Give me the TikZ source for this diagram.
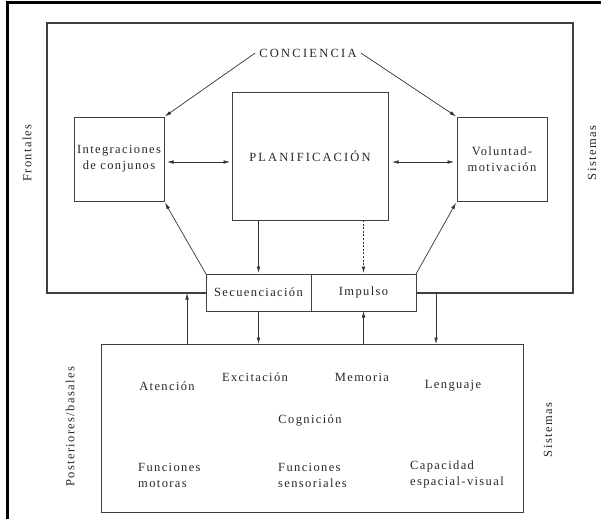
\documentclass[tikz,border=0pt]{standalone}
\usepackage{fontspec}
\setmainfont{Liberation Serif}[LetterSpace=11]
\usetikzlibrary{arrows.meta}
\begin{document}
\begin{tikzpicture}[x=1pt,y=-1pt,
  every node/.style={font=\fontsize{12.5}{16}\selectfont, text=black!85},
  box/.style={draw=black!75, line width=0.8pt, inner sep=0pt, outer sep=0pt, align=center},
  outerbox/.style={draw=black!75, line width=1.4pt, inner sep=0pt, outer sep=0pt},
  conn/.style={draw=black!80, line width=0.7pt, -{Latex[length=6.5pt,width=3.6pt]}},
  both/.style={conn, {Latex[length=6.5pt,width=3.6pt]}-{Latex[length=6.5pt,width=3.6pt]}},
  lbl/.style={inner sep=0pt, align=center},
  caps/.style={inner sep=4pt, font=\fontsize{12.5}{16}\selectfont\addfontfeature{LetterSpace=18}},
  side/.style={inner sep=0pt, rotate=90},
]
\useasboundingbox (0,0) rectangle (601,519);

% page rule along the top and left edge
\draw[line width=3pt, black] (601,3) -- (7,3) -- (7,519);

% frontal systems
\node[outerbox, minimum width=526pt, minimum height=270pt] (frontal) at (310,158) {};
\node[box, minimum width=90pt, minimum height=84pt] (integ) at (119,159) {Integraciones\\de conjunos};
\node[box, minimum width=156pt, minimum height=128pt] (plan) at (310,156) {\addfontfeature{LetterSpace=17}PLANIFICACIÓN};
\node[box, minimum width=90pt, minimum height=84pt] (volunt) at (502,159) {Voluntad-\\motivación};
\node[caps] (conc) at (308,53) {CONCIENCIA};

% sequencing / drive bar across the lower edge
\node[box, fill=white, minimum width=105pt, minimum height=37pt] (seq) at (258.5,292.5) {Secuenciación};
\node[box, fill=white, minimum width=105pt, minimum height=37pt] (imp) at (363.5,292.5) {Impulso};

% posterior / basal systems
\node[box, minimum width=422pt, minimum height=168pt] (post) at (312,428) {};
\node[lbl] (aten) at (167,386) {Atención};
\node[lbl] (excit) at (255,377) {Excitación};
\node[lbl] (memo) at (362,377) {Memoria};
\node[lbl] (leng) at (453,386) {Lenguaje};
\node[lbl] (cogn) at (310,420) {Cognición};
\node[lbl, anchor=west, align=left] (fmot) at (138,475) {Funciones\\motoras};
\node[lbl, anchor=west, align=left] (fsens) at (278,475) {Funciones\\sensoriales};
\node[lbl, anchor=west, align=left] (capac) at (410,474) {Capacidad\\espacial-visual};

% side labels
\node[side] (front) at (27,153) {Frontales};
\node[side] (sistA) at (592,153) {Sistemas};
\node[side] (poster) at (70,427) {Posteriores/basales};
\node[side] (sistB) at (548,430) {Sistemas};

% connectors inside the frontal block
\draw[conn, shorten >=1pt] (conc.west) -- (integ.north east);
\draw[conn, shorten >=1pt] (conc.east) -- (volunt.north west);
\draw[both, shorten <=3pt, shorten >=2pt] ([yshift=-3pt]integ.east) -- ([yshift=-3pt]integ.east -| plan.west);
\draw[both, shorten <=4pt, shorten >=3pt] ([yshift=-3pt]volunt.west -| plan.east) -- ([yshift=-3pt]volunt.west);
\draw[conn, shorten >=1pt] (plan.south -| seq.north) -- (seq.north);
\draw[conn, dash pattern=on 2pt off 1.6pt, shorten >=1pt] (plan.south -| imp.north) -- (imp.north);
\draw[conn, shorten >=2pt] (seq.north west) -- (integ.south east);
\draw[conn, shorten >=2pt] (imp.north east) -- (volunt.south west);

% connectors between the two blocks
\coordinate (xL) at (187,0);
\coordinate (xR) at (436,0);
\draw[conn] (post.north -| xL) -- (frontal.south -| xL);
\draw[conn] (seq.south) -- (seq.south |- post.north);
\draw[conn] (imp.south |- post.north) -- (imp.south);
\draw[conn] (frontal.south -| xR) -- (post.north -| xR);
\end{tikzpicture}
\end{document}
